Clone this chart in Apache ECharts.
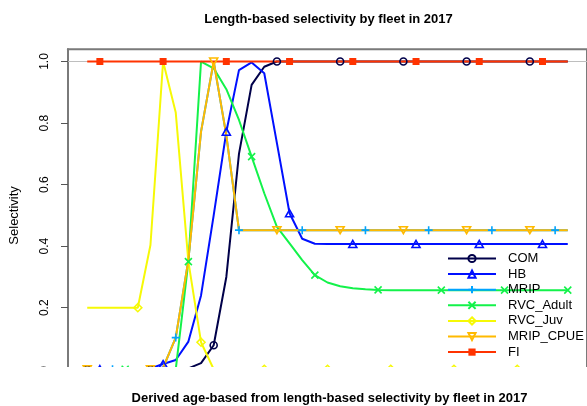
<!DOCTYPE html>
<html>
<head>
<meta charset="utf-8">
<title>Length-based selectivity by fleet in 2017</title>
<script src="https://cdn.jsdelivr.net/npm/echarts@6/dist/echarts.min.js"></script>
<style>
  html, body { margin: 0; padding: 0; background: #fff; }
  #selex { width: 587px; height: 406px; }
</style>
</head>
<body>
<div id="selex"></div>
<script>
  // length bins (x axis itself is cut off in the picture)
  var lengthBins = [2, 4, 6, 8, 10, 12, 14, 16, 18, 20, 22, 24, 26, 28, 30, 32, 34, 36, 38, 40,
                    42, 44, 46, 48, 50, 52, 54, 56, 58, 60, 62, 64, 66, 68, 70, 72, 74, 76, 78];
  var yTicks = [0, 0.2, 0.4, 0.6, 0.8, 1.0];
  var fleetNames = ['COM', 'HB', 'MRIP', 'RVC_Adult', 'RVC_Juv', 'MRIP_CPUE', 'FI'];

  // selectivity at length, one value per bin
  var selCOM = [0, 0, 0, 0, 0, 0, 0, 0, 0.003, 0.02, 0.078, 0.30, 0.70, 0.924, 0.983, 1, 1, 1, 1, 1,
                1, 1, 1, 1, 1, 1, 1, 1, 1, 1, 1, 1, 1, 1, 1, 1, 1, 1, 1];
  var selHB = [0, 0, 0, 0, 0, 0.003, 0.017, 0.03, 0.09, 0.24, 0.50, 0.772, 0.972, 0.997, 0.962, 0.735, 0.507, 0.424, 0.408, 0.407,
               0.407, 0.407, 0.407, 0.407, 0.407, 0.407, 0.407, 0.407, 0.407, 0.407, 0.407, 0.407, 0.407, 0.407, 0.407, 0.407, 0.407, 0.407, 0.407];
  var selMRIP = [0, 0, 0, 0, 0, 0, 0.005, 0.103, 0.355, 0.772, 1, 0.76, 0.452, 0.452, 0.452, 0.452, 0.452, 0.452, 0.452, 0.452,
                 0.452, 0.452, 0.452, 0.452, 0.452, 0.452, 0.452, 0.452, 0.452, 0.452, 0.452, 0.452, 0.452, 0.452, 0.452, 0.452, 0.452, 0.452, 0.452];
  var selRVCAdult = [0, 0, 0, 0, 0, 0, 0, 0, 0.35, 1, 0.978, 0.91, 0.81, 0.691, 0.572, 0.463, 0.409, 0.355, 0.306, 0.282,
                     0.27, 0.263, 0.26, 0.258, 0.257, 0.257, 0.257, 0.257, 0.257, 0.257, 0.257, 0.257, 0.257, 0.257, 0.257, 0.257, 0.257, 0.257, 0.257];
  var selRVCJuv = [0.2, 0.2, 0.2, 0.2, 0.2, 0.404, 1, 0.834, 0.35, 0.088, 0, 0, 0, 0, 0, 0, 0, 0, 0, 0,
                   0, 0, 0, 0, 0, 0, 0, 0, 0, 0, 0, 0, 0, 0, 0, 0, 0, 0, 0];
  var selMRIPCPUE = [0, 0, 0, 0, 0, 0, 0.005, 0.103, 0.355, 0.772, 1, 0.76, 0.452, 0.452, 0.452, 0.452, 0.452, 0.452, 0.452, 0.452,
                     0.452, 0.452, 0.452, 0.452, 0.452, 0.452, 0.452, 0.452, 0.452, 0.452, 0.452, 0.452, 0.452, 0.452, 0.452, 0.452, 0.452, 0.452, 0.452];
  var selFI = [1, 1, 1, 1, 1, 1, 1, 1, 1, 1, 1, 1, 1, 1, 1, 1, 1, 1, 1, 1,
               1, 1, 1, 1, 1, 1, 1, 1, 1, 1, 1, 1, 1, 1, 1, 1, 1, 1, 1];

  var fleetSel = [selCOM, selHB, selMRIP, selRVCAdult, selRVCJuv, selMRIPCPUE, selFI];

  // R style colours (rich.colors.short(7)) and pch-like symbols
  var colors = ['#00004A', '#0010FF', '#00A4FF', '#13F24A', '#F6F906', '#FFBA00', '#FF3300'];
  var symbols = [
    'path://M10,5A5,5,0,1,1,0,5A5,5,0,1,1,10,5Z',
    'path://M5,0L10,8.66L0,8.66Z',
    'path://M5,0L5,10M0,5L10,5',
    'path://M0,0L10,10M10,0L0,10',
    'path://M5,0L10,5L5,10L0,5Z',
    'path://M0,0L10,0L5,8.66Z',
    'rect'
  ];
  var symSizes = [7, [8, 7], 8, 7, 8, [8, 7], 7];
  var symOffset = [0, 1, 2, 3, 4, 0, 1];

  var font = '"Liberation Sans", Arial, Helvetica, sans-serif';
  var myChart = echarts.init(document.getElementById('selex'));

  var series = fleetNames.map(function (name, k) {
    var filled = symbols[k] === 'rect';
    var s = {
      name: name,
      type: 'line',
      data: lengthBins.map(function (len, i) { return [len, fleetSel[k][i]]; }),
      symbol: symbols[k],
      symbolSize: function (val, params) {
        return params.dataIndex % 5 === symOffset[k] ? symSizes[k] : 0;
      },
      lineStyle: { color: colors[k], width: 2 },
      itemStyle: filled ? { color: colors[k] }
        : { color: 'rgba(0,0,0,0)', borderColor: colors[k], borderWidth: 1.6 },
      emphasis: { disabled: true },
      z: 2
    };
    if (k === 0) {
      // grey reference lines at 0 and 1, under all fleets
      s.markLine = {
        silent: true,
        z: 1,
        symbol: 'none',
        label: { show: false },
        lineStyle: { color: '#bebebe', width: 1, type: 'solid' },
        data: [{ yAxis: 1 }, { yAxis: 0 }]
      };
    }
    return s;
  });

  myChart.setOption({
    animation: false,
    grid: {
      left: 66.7,
      top: 49.2,
      right: -3.4,
      bottom: 24.4,
      show: true,
      borderColor: '#7a7a7a',
      borderWidth: 2,
      containLabel: false
    },
    legend: {
      orient: 'vertical',
      left: 442,
      top: 247,
      itemWidth: 48,
      itemHeight: 9,
      itemGap: 2.6,
      data: fleetNames,
      textStyle: { fontFamily: font, fontSize: 13, color: '#000', padding: [0, 0, 0, 7] }
    },
    xAxis: {
      type: 'value',
      min: -1.04,
      max: 81.04,
      show: false,
      splitLine: { show: false }
    },
    yAxis: {
      type: 'value',
      min: -0.04,
      max: 1.04,
      name: 'Selectivity',
      nameLocation: 'middle',
      nameGap: 47,
      nameTextStyle: { fontFamily: font, fontSize: 13, color: '#000' },
      axisLine: { show: true, onZero: false, lineStyle: { color: '#7a7a7a', width: 2 } },
      axisTick: { show: true, customValues: yTicks, length: 7, lineStyle: { color: '#555' } },
      axisLabel: {
        customValues: yTicks,
        rotate: 90,
        margin: 17,
        fontFamily: font,
        fontSize: 12,
        color: '#000',
        formatter: function (v) { return v === 0 ? '0' : v.toFixed(1); }
      },
      splitLine: { show: false }
    },
    graphic: [
      {
        type: 'rect',
        z: 100,
        shape: { x: 0, y: 367, width: 587, height: 39 },
        style: { fill: '#fff' }
      },
      {
        type: 'text',
        z: 101,
        x: 328.5,
        y: 19.5,
        style: {
          text: 'Length-based selectivity by fleet in 2017',
          font: 'bold 13px ' + font,
          fill: '#000',
          textAlign: 'center',
          textVerticalAlign: 'middle'
        }
      },
      {
        type: 'text',
        z: 101,
        x: 329.5,
        y: 398,
        style: {
          text: 'Derived age-based from length-based selectivity by fleet in 2017',
          font: 'bold 13px ' + font,
          fill: '#000',
          textAlign: 'center',
          textVerticalAlign: 'middle'
        }
      }
    ],
    series: series
  });

  window.addEventListener('resize', function () {
    myChart.resize();
  });
</script>
</body>
</html>
